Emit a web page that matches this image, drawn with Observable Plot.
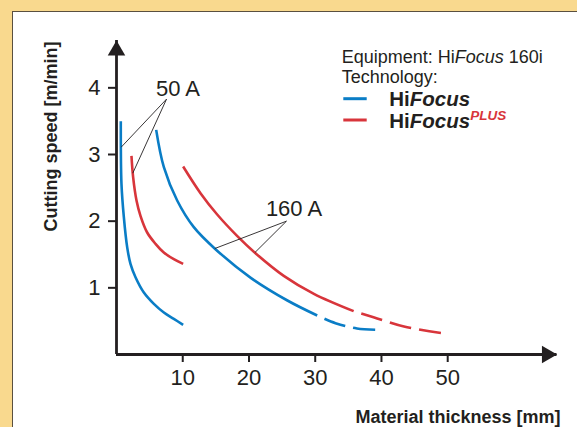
<!DOCTYPE html>
<html><head><meta charset="utf-8">
<script src="https://cdn.jsdelivr.net/npm/d3@7"></script>
<script src="https://cdn.jsdelivr.net/npm/@observablehq/plot@0.6"></script>
<style>
body{margin:0;background:#F9D98E;}
#wrap{position:relative;width:577px;height:427px;overflow:hidden;}
#panel{position:absolute;left:12px;top:11px;right:0;bottom:0;background:#fff;border-left:1.5px solid #5a5040;border-top:1.5px solid #5a5040;}
#chart{position:absolute;left:0;top:0;}
</style></head><body>
<div id="wrap"><div id="panel"></div><div id="chart"></div></div>
<script>
// ---- data ----
const xTicks = [10, 20, 30, 40, 50];
const yTicks = [1, 2, 3, 4];
const xMax = 66.5, yMax = 4.71;

const blue50X = [0.65, 0.75, 1.11, 1.61, 2.11, 2.87, 4.13, 5.64, 7.15, 8.65, 10.06];
const blue50Y = [3.50, 2.56, 2.06, 1.61, 1.36, 1.16, 0.93, 0.76, 0.63, 0.535, 0.445];

const red50X = [2.26, 2.51, 3.02, 3.62, 4.63, 5.89, 7.14, 8.65, 10.06];
const red50Y = [2.98, 2.66, 2.31, 2.08, 1.83, 1.66, 1.53, 1.43, 1.36];

const blue160X = [5.99, 7.15, 9.16, 11.67, 14.94, 20.27, 25.8, 30.3];
const blue160Y = [3.37, 2.81, 2.31, 1.91, 1.58, 1.15, 0.81, 0.585];
const blue160DashX = [30.3, 33.06, 36.3, 39.6];
const blue160DashY = [0.585, 0.47, 0.39, 0.37];

const red160X = [10.06, 12.68, 15.2, 18.2, 20.98, 25.25, 29.8, 35.8];
const red160Y = [2.82, 2.42, 2.10, 1.78, 1.52, 1.18, 0.91, 0.65];
const red160DashX = [35.8, 38.8, 43.4, 49.9];
const red160DashY = [0.65, 0.56, 0.42, 0.31];

const noteLabels = ["50 A", "160 A"];
const noteX = [9.28, 26.8];
const noteY = [3.98, 2.18];
// leader lines: apex -> curve point
const leaderX1 = [7.55, 7.55, 25.66, 25.66];
const leaderY1 = [3.83, 3.83, 2.0, 2.0];
const leaderX2 = [0.71, 2.46, 14.85, 20.9];
const leaderY2 = [3.11, 2.72, 1.59, 1.53];

const yLabel = "Cutting speed [m/min]";
const xLabel = "Material thickness [mm]";

// ---- build ----
const blue = "#0A7DC6", red = "#D8353B", ink = "#231f20";
const font = "'Liberation Sans', Arial, Helvetica, sans-serif";
const pts = (xs, ys) => xs.map((x, i) => ({x, y: ys[i]}));
const lineOpts = (c) => ({x: "x", y: "y", stroke: c, strokeWidth: 2.6, curve: "catmull-rom", strokeLinecap: "butt"});
const dashOpts = (c) => ({...lineOpts(c), strokeDasharray: "22,8", strokeDashoffset: 22});
const leaders = leaderX1.map((x1, i) => ({x1, y1: leaderY1[i], x2: leaderX2[i], y2: leaderY2[i]}));
const notes = noteLabels.map((t, i) => ({t, x: noteX[i], y: noteY[i]}));

const chart = Plot.plot({
  width: 577, height: 427,
  marginLeft: 116, marginRight: 20.5, marginTop: 40, marginBottom: 73,
  style: {background: "transparent", fontFamily: font, color: ink, overflow: "visible"},
  x: {domain: [0, xMax], label: null},
  y: {domain: [0, yMax], label: null},
  marks: [
    Plot.axisX({ticks: xTicks, tickSize: 8, tickPadding: 7, fontSize: 22, strokeWidth: 2, label: null, tickFormat: d => String(d)}),
    Plot.axisY({ticks: yTicks, tickSize: 8, tickPadding: 8, fontSize: 22, strokeWidth: 2, label: null, tickFormat: d => String(d)}),
    Plot.ruleX([0], {stroke: ink, strokeWidth: 2.8}),
    Plot.ruleY([0], {stroke: ink, strokeWidth: 2.8}),
    Plot.dot([{x: 0, y: yMax}], {x: "x", y: "y", symbol: "triangle", r: 6.5, fill: ink, stroke: "none", dy: 10}),
    Plot.dot([{x: xMax, y: 0}], {x: "x", y: "y", symbol: "triangle", r: 6.5, fill: ink, stroke: "none", rotate: 90, dx: -10}),
    Plot.line(pts(blue50X, blue50Y), lineOpts(blue)),
    Plot.line(pts(red50X, red50Y), lineOpts(red)),
    Plot.line(pts(blue160X, blue160Y), lineOpts(blue)),
    Plot.line(pts(blue160DashX, blue160DashY), dashOpts(blue)),
    Plot.line(pts(red160X, red160Y), lineOpts(red)),
    Plot.line(pts(red160DashX, red160DashY), dashOpts(red)),
    Plot.link(leaders, {x1: "x1", y1: "y1", x2: "x2", y2: "y2", stroke: ink, strokeWidth: 0.9}),
    Plot.text(notes, {x: "x", y: "y", text: "t", fontSize: 22, fill: ink}),
    Plot.text([yLabel], {frameAnchor: "top-left", text: d => d, rotate: -90, textAnchor: "middle", lineAnchor: "bottom", dx: -60, dy: 96, fontSize: 18, fontWeight: "bold", fill: ink}),
    Plot.text([xLabel], {frameAnchor: "bottom-right", text: d => d, textAnchor: "end", lineAnchor: "bottom", dx: 3.5, dy: 68, fontSize: 18, fontWeight: "bold", fill: ink})
  ]
});

// legend
const svg = d3.select(chart);
const g = svg.append("g").attr("font-family", font).attr("fill", ink).attr("text-anchor", "start");
const t1 = g.append("text").attr("x", 341.7).attr("y", 62.5).attr("font-size", 18);
t1.append("tspan").text("Equipment: Hi");
t1.append("tspan").attr("font-style", "italic").text("Focus");
t1.append("tspan").text(" 160i");
g.append("text").attr("x", 341.7).attr("y", 82.7).attr("font-size", 18).text("Technology:");
g.append("line").attr("x1", 343.3).attr("x2", 366.7).attr("y1", 98.7).attr("y2", 98.7).attr("stroke", blue).attr("stroke-width", 3);
g.append("line").attr("x1", 343.3).attr("x2", 366.7).attr("y1", 120).attr("y2", 120).attr("stroke", red).attr("stroke-width", 3);
const t3 = g.append("text").attr("x", 389.3).attr("y", 106).attr("font-size", 20.5).attr("font-weight", "bold");
t3.append("tspan").text("Hi");
t3.append("tspan").attr("font-style", "italic").text("Focus");
const t4 = g.append("text").attr("x", 389.3).attr("y", 127.7).attr("font-size", 20.5).attr("font-weight", "bold");
t4.append("tspan").text("Hi");
t4.append("tspan").attr("font-style", "italic").text("Focus");
t4.append("tspan").attr("font-style", "italic").attr("font-size", 13.5).attr("fill", red).attr("dy", -8).text("PLUS");

document.getElementById("chart").appendChild(chart);
</script>
</body></html>
